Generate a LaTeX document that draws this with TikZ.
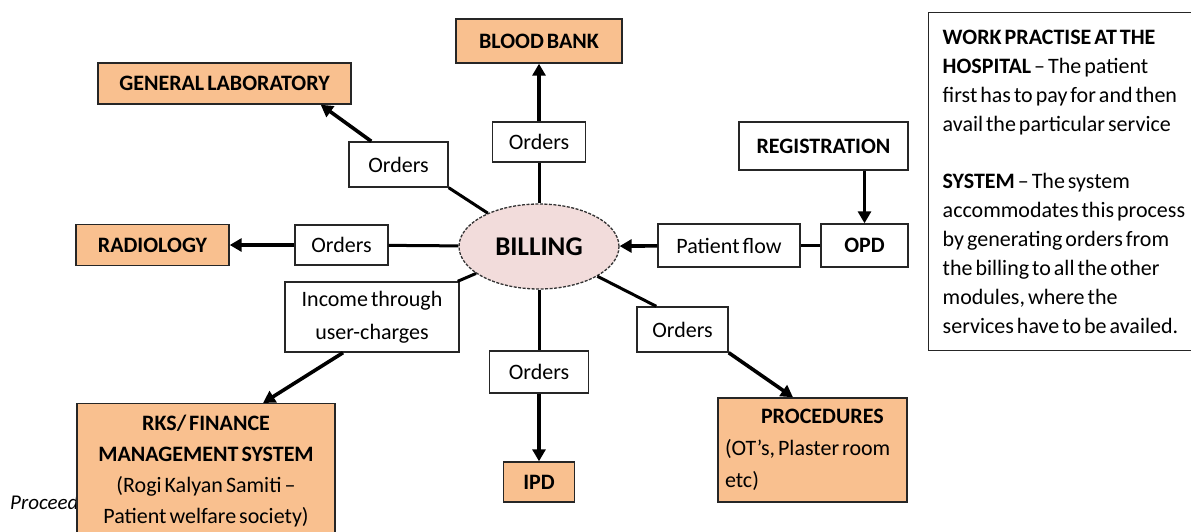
\documentclass[tikz,border=0pt]{standalone}
\usepackage{fontspec}
\setmainfont{Carlito}
\usetikzlibrary{arrows.meta,shapes.geometric}
\definecolor{boxorange}{HTML}{F9C08F}
\definecolor{billpink}{HTML}{F2DCDB}
% narrow word spaces of the layout
\newcommand\tightsp{\spaceskip=3pt plus 1pt minus 0.5pt\relax}
% body size and line pitch
\newcommand\diagfont[2]{\fontsize{#1}{#2}\selectfont\tightsp}
\tikzset{
  base/.style={draw=black!85, line width=1.4pt, inner sep=0pt, align=center,
               font=\diagfont{22}{29}},
  dept/.style={base, fill=boxorange, font=\diagfont{22}{29}\bfseries},
  tag/.style={base, fill=white},
  billing/.style={ellipse, draw=black!80, line width=1.3pt, dash pattern=on 3pt off 1.5pt,
                  fill=billpink, inner sep=0pt, font=\diagfont{27}{30}\bfseries},
  link/.style={line width=3pt, black},
  flow/.style={line width=3.6pt, black, -{Triangle[length=12pt,width=13pt]}},
}
\begin{document}
\begin{tikzpicture}[x=1pt,y=-1pt]
\useasboundingbox (0,0) rectangle (1191,531);

% caption fragment behind the finance box
\node[anchor=west, inner sep=0pt, font=\diagfont{21}{24}\itshape] (src) at (10,502) {Proceed};

% central module
\node[billing, minimum width=160pt, minimum height=85pt] (bill) at (539,246.5) {BILLING};

% departments and order tags
\node[dept, minimum width=166pt, minimum height=44pt] (bb) at (539,41) {BLOOD BANK};
\node[tag,  minimum width=93pt,  minimum height=40pt] (o2) at (539,142) {Orders};

\node[dept, minimum width=253pt, minimum height=41pt] (gl) at (224.5,83.5) {GENERAL LABORATORY};
\node[tag,  minimum width=99pt,  minimum height=45pt] (o1) at (398.5,164.5) {Orders};

\node[dept, minimum width=153pt, minimum height=41pt] (rad) at (152.5,245) {RADIOLOGY};
\node[tag,  minimum width=93pt,  minimum height=40pt] (o3) at (341.5,245) {Orders};

\node[tag, minimum width=174pt, minimum height=70pt, font=\diagfont{22}{33}] (inc) at (372,317)
  {Income through\\user-charges};
\node[dept, anchor=north, minimum width=258pt, minimum height=135pt, font=\diagfont{22}{31}] (rks) at (206,403)
  {\textbf{RKS/ FINANCE}\\\textbf{MANAGEMENT SYSTEM}\\(Rogi Kalyan Samiti –\\Patient welfare society)};

\node[tag,  minimum width=99pt, minimum height=42pt] (o5) at (539,372) {Orders};
\node[dept, minimum width=71pt, minimum height=40pt] (ipd) at (539,482) {IPD};

\node[tag,  minimum width=91pt, minimum height=45pt] (o4) at (682.5,329.5) {Orders};
\node[dept, minimum width=189pt, minimum height=104pt, align=left, text width=175pt,
      font=\diagfont{22}{32}] (proc) at (812.5,450)
  {\tightsp\hspace*{36pt}\textbf{PROCEDURES}\\(OT’s, Plaster room\\etc)};

\node[tag, minimum width=142pt, minimum height=43pt] (pf) at (729,245.5) {Patient flow};
\node[tag, minimum width=87pt,  minimum height=43pt, font=\diagfont{22}{29}\bfseries] (opd) at (864.5,245.5) {OPD};
\node[tag, minimum width=169pt, minimum height=48pt, font=\diagfont{22}{29}\bfseries] (reg) at (823.5,146) {REGISTRATION};

% explanatory note
\node[base, anchor=north west, align=left, text width=262pt, inner xsep=14pt,
      minimum height=338pt, font=\diagfont{22}{29}] (note) at (928,12)
  {\tightsp\textbf{WORK PRACTISE AT THE}\\\textbf{HOSPITAL} – The patient\\first has to pay for and then\\avail the particular service\\[28pt]
   \textbf{SYSTEM} – The system\\accommodates this process\\by generating orders from\\the billing to all the other\\modules, where the\\services have to be availed.};

% connectors
\draw[link] (bill) -- (o2);
\draw[flow] (o2) -- (bb);
\draw[link] (bill) -- (o1.south east);
\draw[flow] ([xshift=23pt]o1.north west) -- ([xshift=-31pt]gl.south east);
\draw[link] (bill) -- (o3);
\draw[flow] (o3) -- (rad);
\draw[link] (bill) -- ([xshift=-2pt]inc.north east);
\draw[flow] ([xshift=-29pt]inc.south) -- ([xshift=57pt]rks.north);
\draw[link] (bill) -- (o5);
\draw[flow] (o5) -- (ipd);
\draw[link] (bill) -- ([xshift=20pt]o4.north west);
\draw[flow] (o4.south east) -- ([xshift=-19.5pt]proc.north);
\draw[flow] (pf) -- (bill);
\draw[link, line width=3.6pt] (opd) -- (pf);
\draw[flow] (reg.south -| opd.north) -- (opd.north);
\end{tikzpicture}
\end{document}
